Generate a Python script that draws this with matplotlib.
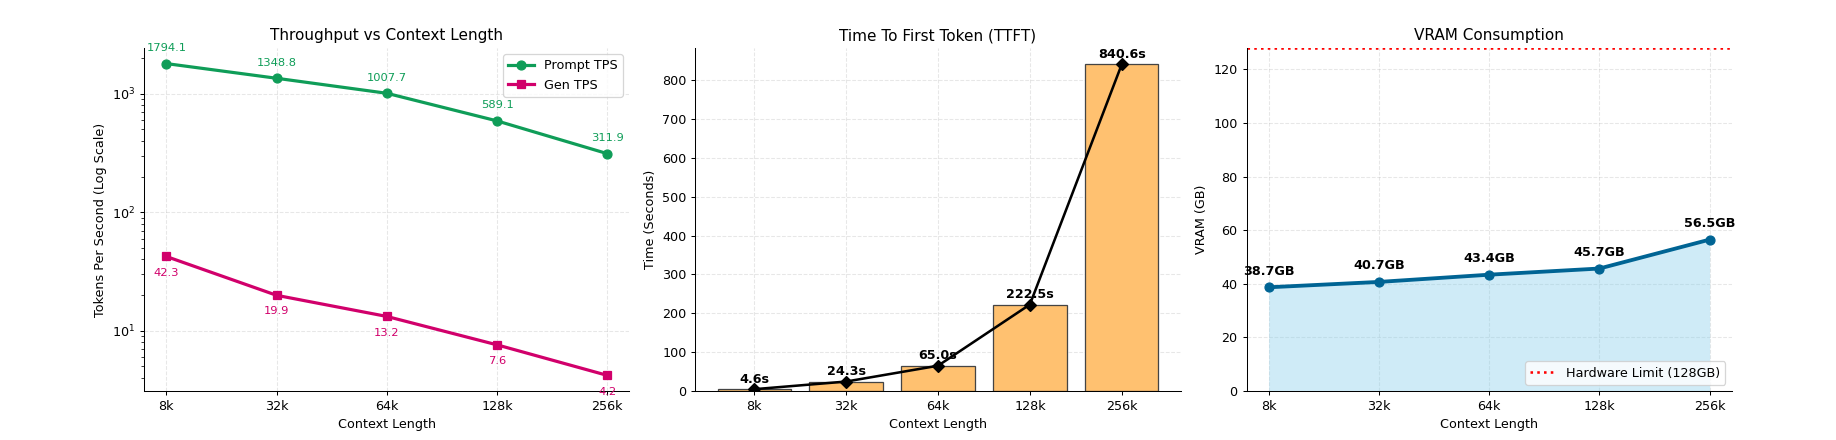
import matplotlib
matplotlib.use("Agg")
import matplotlib.pyplot as plt
import numpy as np

# benchmark numbers
contexts = ["8k", "32k", "64k", "128k", "256k"]
prompt_tps = [1794.1, 1348.8, 1007.7, 589.1, 311.9]
gen_tps = [42.3, 19.9, 13.2, 7.6, 4.2]
ttft = [4.6, 24.3, 65.0, 222.5, 840.6]
vram = [38.7, 40.7, 43.4, 45.7, 56.5]
hw_limit = 128

green = "#0f9d58"
pink = "#d1006b"
blue = "#006494"

fig = plt.figure(figsize=(20, 4.7931), dpi=91.8)
x = np.arange(len(contexts))
w, h, b = 0.2642, 0.7795, 0.1114
ax1 = fig.add_axes([0.0786, b, w, h])
ax2 = fig.add_axes([0.0786 + 0.3002, b, w, h])
ax3 = fig.add_axes([0.0786 + 2 * 0.3002, b, w, h])

# throughput
ax1.plot(x, prompt_tps, marker="o", color=green, lw=2.5, ms=7, label="Prompt TPS")
ax1.plot(x, gen_tps, marker="s", color=pink, lw=2.5, ms=7, label="Gen TPS")
ax1.set_yscale("log")
for i, v in enumerate(prompt_tps):
    ax1.annotate(f"{v}", (x[i], v), xytext=(0, 10), textcoords="offset points",
                 ha="center", color=green, fontsize=9)
for i, v in enumerate(gen_tps):
    ax1.annotate(f"{v}", (x[i], v), xytext=(0, -15), textcoords="offset points",
                 ha="center", color=pink, fontsize=9)
ax1.set_title("Throughput vs Context Length", fontsize=12)
ax1.set_ylabel("Tokens Per Second (Log Scale)")
ax1.legend(loc="upper right")

# ttft
ax2.bar(x, ttft, color="#ffc170", edgecolor="#444444", width=0.8)
ax2.plot(x, ttft, marker="D", color="black", lw=2, ms=7)
for i, v in enumerate(ttft):
    ax2.annotate(f"{v}s", (x[i], v), xytext=(0, 5), textcoords="offset points",
                 ha="center", fontsize=10, fontweight="bold")
ax2.set_title("Time To First Token (TTFT)", fontsize=12)
ax2.set_ylabel("Time (Seconds)")

# vram
ax3.fill_between(x, vram, color="skyblue", alpha=0.4, lw=0)
ax3.plot(x, vram, marker="o", color=blue, lw=3, ms=7)
ax3.axhline(hw_limit, color="red", linestyle=":", lw=2, label="Hardware Limit (128GB)")
for i, v in enumerate(vram):
    ax3.annotate(f"{v}GB", (x[i], v), xytext=(0, 10), textcoords="offset points",
                 ha="center", fontsize=10, fontweight="bold")
ax3.set_ylim(0, hw_limit)
ax3.set_title("VRAM Consumption", fontsize=12)
ax3.set_ylabel("VRAM (GB)")
ax3.legend(loc="lower right")

for ax in (ax1, ax2, ax3):
    ax.set_xticks(x)
    ax.set_xticklabels(contexts)
    ax.set_xlabel("Context Length")
    ax.grid(True, linestyle="--", alpha=0.3)
    ax.set_axisbelow(True)
    ax.spines["top"].set_visible(False)
    ax.spines["right"].set_visible(False)

fig.savefig("out.png", dpi=91.8)
